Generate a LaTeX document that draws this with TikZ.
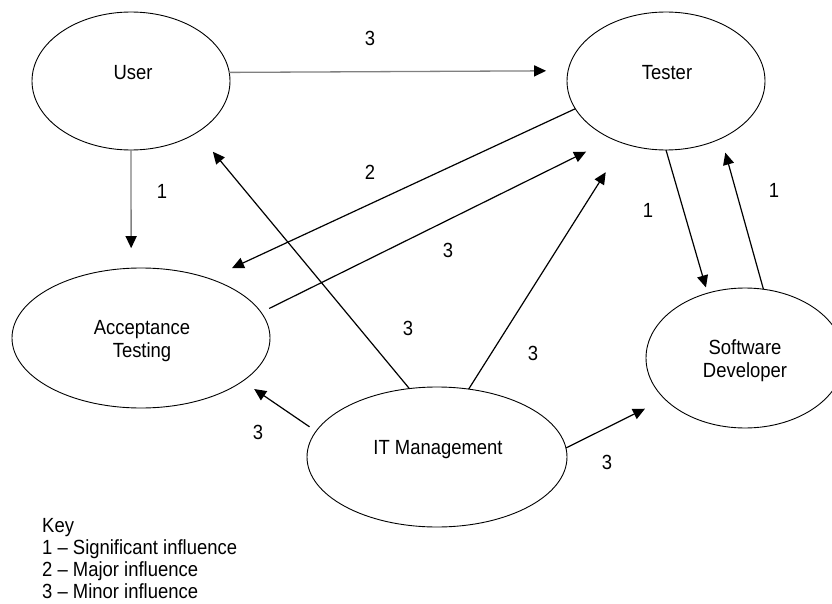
\documentclass[tikz,border=0pt]{standalone}
\usepackage{fontspec}
\setmainfont{Liberation Sans}[FakeStretch=0.9]
\usetikzlibrary{arrows.meta,shapes.geometric}
\begin{document}
\begin{tikzpicture}[x=1pt,y=-1pt,
  ent/.style={ellipse,draw=black,line width=0.9pt,inner sep=0pt,outer sep=0pt,minimum height=138pt},
  txt/.style={font=\fontsize{20.5}{23}\selectfont,align=center,inner sep=0pt},
  num/.style={font=\fontsize{20.5}{23}\selectfont,inner sep=0pt},
  arr/.style={line width=1.2pt,-{Triangle[length=12pt,width=11pt]}},
  garr/.style={line width=1.3pt,draw=black!50,-{Triangle[length=12pt,width=11pt,color=black]}}]
\useasboundingbox (0,0) rectangle (832,604);
\clip (0,0) rectangle (832,604);
% entities
\node[ent,minimum width=198pt] (U) at (131,81) {};
\node[ent,minimum width=198pt] (T) at (666,81) {};
\node[ent,minimum width=258pt,minimum height=140pt] (A) at (141,338) {};
\node[ent,minimum width=260pt,minimum height=140pt] (M) at (437,457) {};
\node[ent,minimum width=198pt,minimum height=140pt] (D) at (745,358) {};
% entity texts
\node[txt] (Ut) at (133,73) {User};
\node[txt] (Tt) at (667,73) {Tester};
\node[txt] (At) at (142,341) {Acceptance\\Testing};
\node[txt] (Mt) at (438,450) {IT Management};
\node[txt] (Dt) at (745,361) {Software\\Developer};
% connectors
\draw[garr,shorten >=22pt] (U.5.2) -- (T.174.8);
\draw[garr,shorten >=20pt] (U.-90) -- (A.98.2);
\draw[arr,shorten >=25pt] (T.197.4) -- (A.41);
\draw[arr,shorten <=9pt,shorten >=29pt] (A.12.7) -- (T.227.2);
\draw[arr,shorten >=25pt] (M.112.8) -- (U.-38.5);
\draw[arr,shorten >=34pt] (M.65.8) -- (T.-124.5);
\draw[arr,shorten <=8pt,shorten >=14pt] (M.168.8) -- (A.-23.7);
\draw[arr,shorten >=22pt] (M.4) -- (D.207.2);
\draw[arr,shorten >=6pt] (T.-90) -- (D.120.8);
\draw[arr,shorten >=15pt] (D.75.4) -- (T.-46.3);
% connector labels
\node[num] (l1) at (370,38) {3};
\node[num] (l2) at (162,191) {1};
\node[num] (l3) at (370,172) {2};
\node[num] (l4) at (448,250) {3};
\node[num] (l5) at (408,328) {3};
\node[num] (l6) at (533,353) {3};
\node[num] (l7) at (258,432) {3};
\node[num] (l8) at (607,462) {3};
\node[num] (l9) at (648,210) {1};
\node[num] (l10) at (774,190) {1};
% key
\node[font=\fontsize{20.5}{22}\selectfont,align=left,inner sep=0pt,anchor=west] (key) at (42,559)
  {Key\\1 -- Significant influence\\2 -- Major influence\\3 -- Minor influence};
\end{tikzpicture}
\end{document}
